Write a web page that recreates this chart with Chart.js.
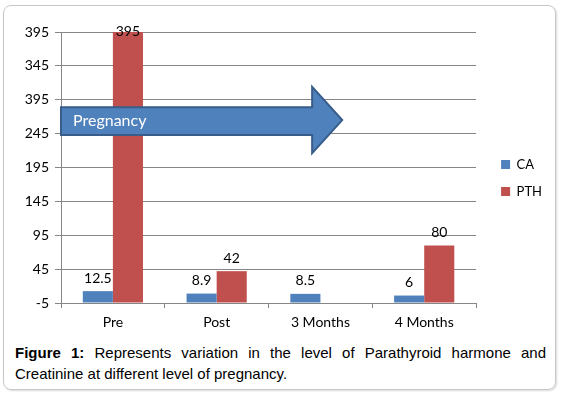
<!DOCTYPE html>
<html>
<head>
<meta charset="utf-8">
<script src="https://cdn.jsdelivr.net/npm/chart.js@4"></script>
<style>
  body { margin: 0; background: #fff; }
  #frame {
    position: absolute; left: 3px; top: 5px; width: 551px; height: 383px;
    border: 1.5px solid #c8c8c8; border-radius: 8px;
    box-shadow: 1px 1px 2px rgba(0,0,0,0.15);
  }
  #wrap { position: absolute; left: 0; top: 0; width: 563px; height: 340px; }
  #caption {
    position: absolute; left: 15px; top: 342px; width: 531px;
    font-family: "Liberation Sans", Arial, sans-serif; font-size: 15px;
    line-height: 21px; text-align: justify; color: #000;
  }
</style>
</head>
<body>
<div id="frame"></div>
<div id="wrap"><canvas id="bar_chart" width="563" height="340"></canvas></div>
<div id="caption"><b>Figure 1:</b> Represents variation in the level of Parathyroid harmone and Creatinine at different level of pregnancy.</div>
<script>
// 데이터
var categories = ['Pre', 'Post', '3 Months', '4 Months'];
var caValues = [12.5, 8.9, 8.5, 6];
var pthValues = [395, 42, null, 80];
var yTickValues = [-5, 45, 95, 145, 195, 245, 295, 345, 395];
var yTickLabels = ['-5', '45', '95', '145', '195', '245', '395', '345', '395'];

// arrow shape, in axis units (x = category index, y = value)
var arrowShape = { neck: 1.92, tip: 2.21, bodyTop: 284, bodyBottom: 243, headTop: 314, headBottom: 216, text: 'Pregnancy' };

var gridColor = '#868686';

// 막대 위 값 표시
var valueLabels = {
  id: 'valueLabels',
  afterDatasetsDraw: function(chart) {
    var ctx = chart.ctx;
    ctx.save();
    ctx.font = '14px Lato';
    ctx.fillStyle = '#000';
    ctx.textAlign = 'center';
    ctx.textBaseline = 'middle';
    chart.data.datasets.forEach(function(ds, i) {
      chart.getDatasetMeta(i).data.forEach(function(bar, j) {
        if (ds.data[j] === null) return;
        var y = Math.max(bar.y - 13, chart.chartArea.top - 1);
        ctx.fillText(String(ds.data[j]), bar.x, y);
      });
    });
    ctx.restore();
  }
};

// 화살표
var pregnancyArrow = {
  id: 'pregnancyArrow',
  afterDraw: function(chart) {
    var x = chart.scales.x, y = chart.scales.y, ctx = chart.ctx;
    var left = chart.chartArea.left;
    var neck = x.getPixelForValue(arrowShape.neck);
    var tip = x.getPixelForValue(arrowShape.tip);
    var mid = y.getPixelForValue((arrowShape.headTop + arrowShape.headBottom) / 2);
    ctx.save();
    ctx.beginPath();
    ctx.moveTo(left, y.getPixelForValue(arrowShape.bodyTop));
    ctx.lineTo(neck, y.getPixelForValue(arrowShape.bodyTop));
    ctx.lineTo(neck, y.getPixelForValue(arrowShape.headTop));
    ctx.lineTo(tip, mid);
    ctx.lineTo(neck, y.getPixelForValue(arrowShape.headBottom));
    ctx.lineTo(neck, y.getPixelForValue(arrowShape.bodyBottom));
    ctx.lineTo(left, y.getPixelForValue(arrowShape.bodyBottom));
    ctx.closePath();
    ctx.fillStyle = '#4F81BD';
    ctx.fill();
    ctx.lineWidth = 2;
    ctx.strokeStyle = '#385D8A';
    ctx.stroke();
    ctx.fillStyle = '#fff';
    ctx.font = '16px Lato';
    ctx.textBaseline = 'middle';
    ctx.fillText(arrowShape.text, left + 12, mid + 1);
    ctx.restore();
  }
};

// 범례 위치 살짝 이동
var legendShift = {
  id: 'legendShift',
  afterLayout: function(chart) {
    var l = chart.legend;
    l.left += 11; l.right += 11;
    l.top -= 8; l.bottom -= 8;
  }
};

var chart = new Chart(document.getElementById('bar_chart').getContext('2d'), {
  type: 'bar',
  data: {
    labels: categories,
    datasets: [{
      label: 'CA',
      data: caValues,
      backgroundColor: '#4F81BD',
      base: -5
    }, {
      label: 'PTH',
      data: pthValues,
      backgroundColor: '#C0504D',
      base: -5
    }]
  },
  options: {
    responsive: false,
    animation: false,
    devicePixelRatio: 1,
    categoryPercentage: 0.58,
    barPercentage: 1,
    layout: { padding: { top: 32, right: 22, bottom: 0, left: 0 } },
    scales: {
      x: {
        grid: { drawOnChartArea: false, color: gridColor, tickLength: 5, offset: true },
        border: { color: gridColor },
        ticks: { color: '#000', font: { family: 'Lato', size: 14 }, padding: 6 },
        afterFit: function(scale) { scale.height = 37; }
      },
      y: {
        min: -5,
        max: 395,
        grid: { color: gridColor, tickLength: 6 },
        border: { color: gridColor },
        ticks: {
          color: '#000', font: { family: 'Lato', size: 14 }, padding: 6,
          callback: function(value, index) { return yTickLabels[index]; }
        },
        afterBuildTicks: function(scale) {
          scale.ticks = yTickValues.map(function(v) { return { value: v }; });
        },
        afterFit: function(scale) { scale.width = 61; }
      }
    },
    plugins: {
      legend: {
        position: 'right',
        labels: {
          boxWidth: 9, boxHeight: 9, padding: 14, color: '#000',
          font: { family: 'Lato', size: 13 }
        }
      },
      tooltip: { enabled: false }
    }
  },
  plugins: [valueLabels, pregnancyArrow, legendShift]
});
</script>
</body>
</html>
